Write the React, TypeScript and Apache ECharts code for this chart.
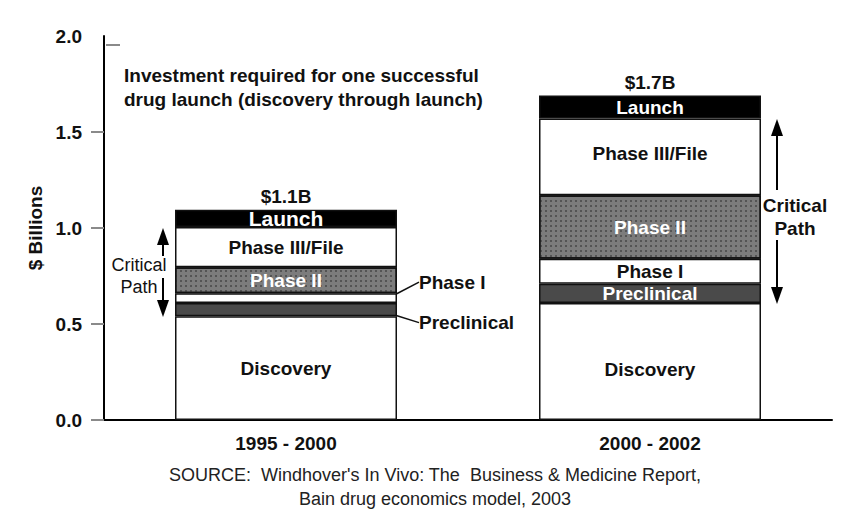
import React, { useEffect, useRef } from "react";
import * as echarts from "echarts";

const categories = ["1995 - 2000", "2000 - 2002"];
const discovery = [0.54, 0.61];
const preclinical = [0.07, 0.1];
const phaseI = [0.05, 0.13];
const phaseII = [0.135, 0.33];
const phaseIII = [0.21, 0.4];
const launch = [0.09, 0.12];
const totalLabels = ["$1.1B", "$1.7B"];
const yTicks = [0, 0.5, 1.0, 1.5, 2.0];

const FONT = "'Liberation Sans', Arial, Helvetica, sans-serif";
const BORDER = "#111";
const FS = 19;

export default function App() {
  const ref = useRef<HTMLDivElement>(null);

  useEffect(() => {
    document.body.style.margin = "0";
    if (!ref.current) return;
    const chart = echarts.init(ref.current, null, { renderer: "svg" });

    const inLabel = (color: string) => ({
      show: true,
      position: "inside",
      color,
      fontFamily: FONT,
      fontWeight: "bold",
      fontSize: FS,
    });

    const outLabel = {
      show: true,
      position: "right",
      distance: 22,
      color: "#111",
      fontFamily: FONT,
      fontWeight: "bold",
      fontSize: FS,
    };

    const base = {
      type: "bar",
      stack: "total",
      barWidth: 222,
      itemStyle: { borderColor: BORDER, borderWidth: 1.5 },
    };

    const option: any = {
      animation: false,
      backgroundColor: "#ffffff",
      textStyle: { fontFamily: FONT },
      grid: { left: 104, right: 16, top: 36, bottom: 103, containLabel: false },
      xAxis: {
        type: "category",
        data: categories,
        axisLine: { show: true, lineStyle: { color: "#000", width: 2 } },
        axisTick: { show: false },
        axisLabel: {
          color: "#111",
          fontFamily: FONT,
          fontWeight: "bold",
          fontSize: FS,
          margin: 14,
        },
      },
      yAxis: {
        type: "value",
        min: 0,
        max: 2.0,
        interval: 0.5,
        name: "$ Billions",
        nameLocation: "middle",
        nameGap: 49,
        nameRotate: 90,
        nameTextStyle: { color: "#111", fontFamily: FONT, fontWeight: "bold", fontSize: FS },
        axisLine: { show: true, lineStyle: { color: "#000", width: 2 } },
        axisTick: {
          show: true,
          length: 13,
          customValues: yTicks.slice(0, 4),
          lineStyle: { color: "#8a8a8a", width: 2 },
        },
        splitLine: { show: false },
        axisLabel: {
          color: "#111",
          fontFamily: FONT,
          fontWeight: "bold",
          fontSize: FS,
          margin: 22,
          customValues: yTicks,
          formatter: (v: number) => v.toFixed(1),
        },
      },
      series: [
        {
          ...base,
          name: "Discovery",
          data: discovery.map((v, i) =>
            i === 1 ? { value: v, label: { offset: [0, 8] } } : v
          ),
          itemStyle: { ...base.itemStyle, color: "#ffffff" },
          label: { ...inLabel("#111"), formatter: "Discovery" },
        },
        {
          ...base,
          name: "Preclinical",
          data: preclinical.map((v, i) =>
            i === 0 ? { value: v, label: { ...outLabel } } : v
          ),
          itemStyle: { ...base.itemStyle, color: "#4a4a4a" },
          label: { ...inLabel("#fff"), formatter: "Preclinical" },
          labelLine: { show: true, lineStyle: { color: "#111", width: 1.5 } },
          labelLayout: (p: any) => (p.dataIndex === 0 ? { dy: 13 } : {}),
        },
        {
          ...base,
          name: "Phase I",
          data: phaseI.map((v, i) =>
            i === 0 ? { value: v, label: { ...outLabel } } : v
          ),
          itemStyle: { ...base.itemStyle, color: "#ffffff" },
          label: { ...inLabel("#111"), formatter: "Phase I" },
          labelLine: { show: true, lineStyle: { color: "#111", width: 1.5 } },
          labelLayout: (p: any) => (p.dataIndex === 0 ? { dy: -16 } : {}),
        },
        {
          ...base,
          name: "Phase II",
          data: phaseII,
          itemStyle: {
            ...base.itemStyle,
            color: "#7c7c7c",
            decal: {
              symbol: "rect",
              symbolSize: 1,
              color: "rgba(50,50,50,0.55)",
              dashArrayX: [1.5, 2.5],
              dashArrayY: [1.5, 2.5],
            },
          },
          label: { ...inLabel("#fff"), formatter: "Phase II" },
        },
        {
          ...base,
          name: "Phase III/File",
          data: phaseIII.map((v, i) =>
            i === 1 ? { value: v, label: { offset: [0, -3] } } : v
          ),
          itemStyle: { ...base.itemStyle, color: "#ffffff" },
          label: { ...inLabel("#111"), formatter: "Phase III/File" },
        },
        {
          ...base,
          name: "Launch",
          data: launch.map((v, i) => ({
            value: v,
            label: { fontSize: i === 0 ? 21 : FS },
          })),
          itemStyle: { ...base.itemStyle, color: "#000" },
          label: { ...inLabel("#fff"), formatter: "Launch" },
        },
        {
          ...base,
          name: "Total",
          data: launch.map(() => 0),
          itemStyle: { color: "transparent", borderWidth: 0 },
          label: {
            show: true,
            position: "top",
            distance: 4,
            color: "#111",
            fontFamily: FONT,
            fontWeight: "bold",
            fontSize: FS,
            formatter: (p: any) => totalLabels[p.dataIndex],
          },
        },
      ],
      graphic: [
        {
          type: "text",
          left: 124,
          top: 63,
          style: {
            text: "Investment required for one successful\ndrug launch (discovery through launch)",
            font: `bold ${FS}px ${FONT}`,
            fill: "#111",
            lineHeight: 24,
          },
        },
        // stray tick at 2.0
        {
          type: "line",
          shape: { x1: 106, y1: 45, x2: 120, y2: 45 },
          style: { stroke: "#8a8a8a", lineWidth: 2 },
        },
        // Critical path, bar 1
        { type: "line", shape: { x1: 163, y1: 243, x2: 163, y2: 256 }, style: { stroke: "#000", lineWidth: 2 } },
        { type: "polygon", shape: { points: [[163, 228], [157, 245], [169, 245]] }, style: { fill: "#000" } },
        {
          type: "text",
          x: 139,
          y: 265,
          style: { text: "Critical", font: `18px ${FONT}`, fill: "#111", align: "center", verticalAlign: "middle" },
        },
        {
          type: "text",
          x: 139,
          y: 287,
          style: { text: "Path", font: `18px ${FONT}`, fill: "#111", align: "center", verticalAlign: "middle" },
        },
        { type: "line", shape: { x1: 163, y1: 278, x2: 163, y2: 302 }, style: { stroke: "#000", lineWidth: 2 } },
        { type: "polygon", shape: { points: [[163, 317], [157, 300], [169, 300]] }, style: { fill: "#000" } },
        // Critical path, bar 2
        { type: "line", shape: { x1: 777, y1: 132, x2: 777, y2: 190 }, style: { stroke: "#000", lineWidth: 2 } },
        { type: "polygon", shape: { points: [[777, 119], [771, 136], [783, 136]] }, style: { fill: "#000" } },
        {
          type: "text",
          x: 795,
          y: 205,
          style: { text: "Critical", font: `bold ${FS}px ${FONT}`, fill: "#111", align: "center", verticalAlign: "middle" },
        },
        {
          type: "text",
          x: 795,
          y: 228,
          style: { text: "Path", font: `bold ${FS}px ${FONT}`, fill: "#111", align: "center", verticalAlign: "middle" },
        },
        { type: "line", shape: { x1: 777, y1: 240, x2: 777, y2: 290 }, style: { stroke: "#000", lineWidth: 2 } },
        { type: "polygon", shape: { points: [[777, 304], [771, 287], [783, 287]] }, style: { fill: "#000" } },
        // source
        {
          type: "text",
          x: 435,
          y: 475,
          style: {
            text: "SOURCE:  Windhover's In Vivo: The  Business & Medicine Report,",
            font: `18px ${FONT}`,
            fill: "#222",
            align: "center",
            verticalAlign: "middle",
          },
        },
        {
          type: "text",
          x: 435,
          y: 499,
          style: {
            text: "Bain drug economics model, 2003",
            font: `18px ${FONT}`,
            fill: "#222",
            align: "center",
            verticalAlign: "middle",
          },
        },
      ],
    };

    chart.setOption(option);
    return () => chart.dispose();
  }, []);

  return <div ref={ref} style={{ width: 848, height: 523 }} />;
}
